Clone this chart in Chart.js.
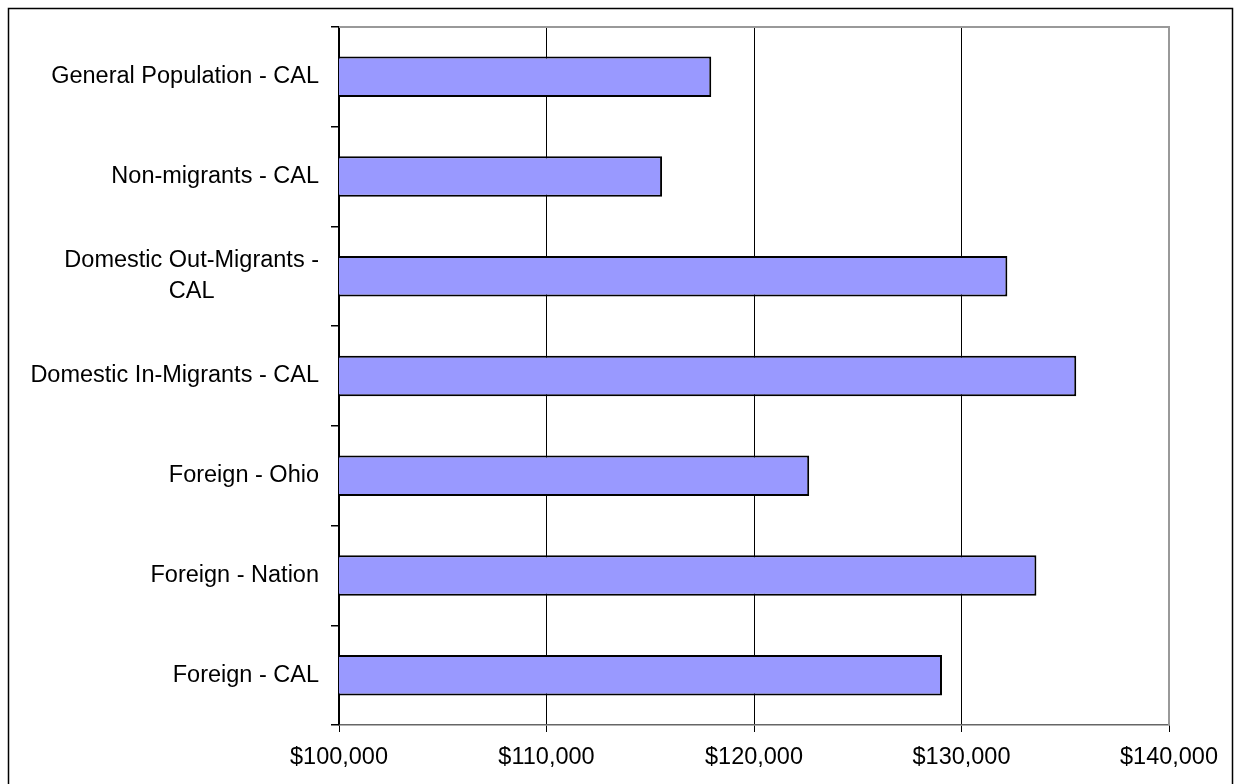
<!DOCTYPE html>
<html lang="en">

<head>
    <meta charset="UTF-8">
    <title>Income by migrant group</title>
    <script src="https://cdn.jsdelivr.net/npm/chart.js@4.4.0/dist/chart.umd.min.js"></script>
    <style>
        html, body { margin: 0; padding: 0; background: #fff; }
        #wrap { width: 1236px; height: 784px; }
    </style>
</head>

<body>
    <div id="wrap"><canvas id="myChart"></canvas></div>

    <script>
        // categories, top to bottom
        const groups = [
            ['General Population - CAL'],
            ['Non-migrants - CAL'],
            ['Domestic Out-Migrants -', 'CAL'],
            ['Domestic In-Migrants - CAL'],
            ['Foreign - Ohio'],
            ['Foreign - Nation'],
            ['Foreign - CAL']
        ];
        const incomes = [117940, 115570, 132210, 135530, 122660, 133610, 129060];
        const xTicks = [100000, 110000, 120000, 130000, 140000];

        const FONT = '"Liberation Sans", Arial, sans-serif';

        // frame, plot border and wrapped category labels
        const decorate = {
            id: 'decorate',
            beforeDraw(chart) {
                const ctx = chart.ctx;
                ctx.save();
                ctx.strokeStyle = '#000';
                ctx.lineWidth = 1.5;
                ctx.beginPath();
                ctx.moveTo(8.5, 790);
                ctx.lineTo(8.5, 8.5);
                ctx.lineTo(1232.5, 8.5);
                ctx.lineTo(1232.5, 790);
                ctx.stroke();
                ctx.restore();
            },
            afterDraw(chart) {
                const ctx = chart.ctx;
                const area = chart.chartArea;
                const y = chart.scales.y;
                ctx.save();
                ctx.strokeStyle = '#999';
                ctx.lineWidth = 2;
                ctx.beginPath();
                ctx.moveTo(area.left, area.top);
                ctx.lineTo(area.right, area.top);
                ctx.lineTo(area.right, area.bottom);
                ctx.stroke();

                ctx.fillStyle = '#000';
                ctx.font = '23.5px ' + FONT;
                ctx.textBaseline = 'middle';
                ctx.textAlign = 'center';
                const rightEdge = area.left - 20;
                const lineH = 31;
                groups.forEach((lines, i) => {
                    const cy = y.getPixelForTick(i);
                    const w = Math.max(...lines.map(l => ctx.measureText(l).width));
                    const cx = rightEdge - w / 2;
                    const top = cy - (lines.length - 1) * lineH / 2;
                    lines.forEach((l, j) => ctx.fillText(l, cx, top + j * lineH));
                });
                ctx.restore();
            }
        };

        const ctx = document.getElementById('myChart').getContext('2d');
        new Chart(ctx, {
            type: 'bar',
            data: {
                labels: groups.map(g => g.join(' ')),
                datasets: [{
                    data: incomes,
                    backgroundColor: '#9999FF',
                    borderColor: '#000',
                    borderWidth: 2,
                    borderSkipped: false,
                    barPercentage: 0.406,
                    categoryPercentage: 1
                }]
            },
            options: {
                indexAxis: 'y',
                responsive: true,
                maintainAspectRatio: false,
                animation: false,
                layout: { padding: { left: 0, top: 27, right: 67, bottom: 0 } },
                plugins: {
                    legend: { display: false },
                    tooltip: { enabled: false }
                },
                scales: {
                    x: {
                        min: 100000,
                        max: 140000,
                        afterBuildTicks: scale => {
                            scale.ticks = xTicks.map(v => ({ value: v }));
                        },
                        afterFit: scale => { scale.height = 59; },
                        grid: {
                            color: '#000',
                            lineWidth: 1,
                            tickLength: 7
                        },
                        border: { color: '#666', width: 1.5 },
                        ticks: {
                            color: '#000',
                            font: { family: FONT, size: 23.5 },
                            padding: 11,
                            maxRotation: 0,
                            callback: v => '$' + Number(v).toLocaleString('en-US')
                        }
                    },
                    y: {
                        afterFit: scale => { scale.width = 339; },
                        grid: {
                            offset: true,
                            drawOnChartArea: false,
                            drawTicks: true,
                            tickLength: 8,
                            color: '#000',
                            lineWidth: 1.5
                        },
                        border: { color: '#000', width: 1.5 },
                        ticks: { display: false }
                    }
                }
            },
            plugins: [decorate]
        });
    </script>
</body>

</html>
